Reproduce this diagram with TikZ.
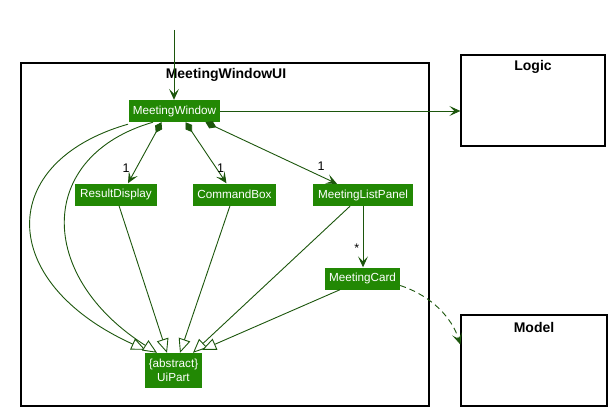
\documentclass[tikz,border=0pt]{standalone}
\usepackage{fontspec}
\setmainfont{Liberation Sans}
\usetikzlibrary{arrows.meta}
\definecolor{nodegreen}{RGB}{34,136,4}
\definecolor{linegreen}{RGB}{28,86,12}
\begin{document}
\begin{tikzpicture}[x=1pt,y=-1pt,
  cls/.style={fill=nodegreen,text=white,inner sep=0pt,minimum height=22pt,
    font=\fontsize{11.7}{13.5}\selectfont,align=center},
  pkg/.style={draw=black,line width=1.3pt,inner sep=0pt},
  ttl/.style={font=\fontsize{14}{16}\selectfont\bfseries},
  conn/.style={draw=linegreen,line width=0.9pt},
  assoc/.style={conn,-{Stealth[length=11pt,width=10pt,inset=5pt]}},
  comp/.style={conn,{Diamond[length=12pt,width=8pt,fill=linegreen]}-{Stealth[length=11pt,width=10pt,inset=5pt]}},
  gen/.style={conn,-{Triangle[open,length=14pt,width=12pt,fill=white]}},
  mult/.style={font=\fontsize{12.5}{13}\selectfont}
]
\useasboundingbox (0,0) rectangle (613,412);
% packages
\node[pkg,minimum width=408pt,minimum height=343pt] (ui) at (225,234.5) {};
\node[ttl] at (226,75) {MeetingWindowUI};
\node[pkg,minimum width=144pt,minimum height=91pt] (logic) at (533,100.5) {};
\node[ttl] at (533,67) {Logic};
\node[pkg,minimum width=146pt,minimum height=91pt] (model) at (534,360.5) {};
\node[ttl] at (534,327) {Model};
% classes
\node[cls,minimum width=91pt] (mw) at (174.5,111) {MeetingWindow};
\node[cls,minimum width=82pt] (rd) at (116,194.5) {ResultDisplay};
\node[cls,minimum width=83pt] (cb) at (234.5,194.5) {CommandBox};
\node[cls,minimum width=100pt] (mlp) at (363,195) {MeetingListPanel};
\node[cls,minimum width=75pt] (mc) at (362.5,278.5) {MeetingCard};
\node[cls,minimum width=57pt,minimum height=35pt] (up) at (173.5,370.5) {\{abstract\}\\UiPart};
% entry arrow
\coordinate (entry) at (174,30);
\draw[assoc] (entry) -- (entry |- mw.north);
% to logic
\draw[assoc] (mw.east) -- (mw.east -| logic.west);
% compositions
\draw[comp] ([xshift=-13pt]mw.south) -- ([xshift=12pt]rd.north) node[mult,pos=0.75,left=3pt] {1};
\draw[comp] ([xshift=11pt]mw.south) -- ([xshift=-8pt]cb.north) node[mult,pos=0.75,right=-3pt] {1};
\draw[comp] ([xshift=31pt]mw.south) -- ([xshift=-26pt]mlp.north) node[mult,pos=0.88,above=2pt] {1};
% panel to card
\draw[assoc] (mlp.south) -- (mlp.south |- mc.north) node[mult,pos=0.68,left=0pt] {*};
% card to model
\draw[assoc,dashed,dash pattern=on 6pt off 4pt] ([yshift=-7pt]mc.east) .. controls (432,296) and (452,318) .. ([yshift=16pt]model.west);
% generalizations
\draw[gen] ([xshift=-46.5pt,yshift=-2pt]mw.south) .. controls (-4,162) and (-4,282) .. ([xshift=0.5pt,yshift=3pt]up.north west);
\draw[gen] ([xshift=-21.5pt]mw.south) .. controls (36,156) and (36,276) .. ([xshift=-16.5pt]up.north);
\draw[gen] ([xshift=3pt]rd.south) -- ([xshift=-6.5pt]up.north);
\draw[gen] ([xshift=-4.5pt]cb.south) -- ([xshift=6.5pt]up.north);
\draw[gen] ([xshift=-13pt]mlp.south) -- ([xshift=19.5pt]up.north);
\draw[gen] ([xshift=-22.5pt]mc.south) -- ([xshift=0pt,yshift=3pt]up.north east);
\end{tikzpicture}
\end{document}
